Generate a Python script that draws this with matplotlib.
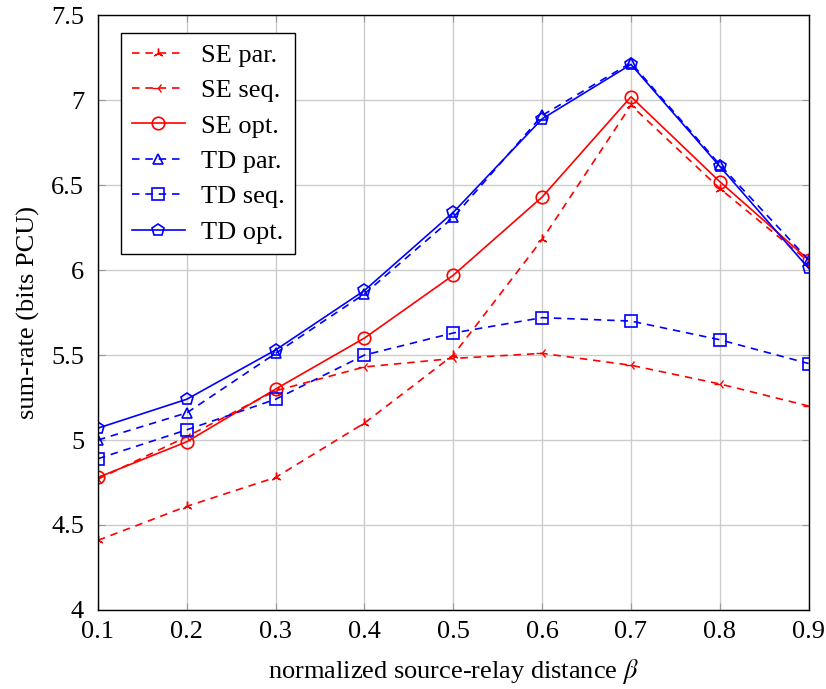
import numpy as np
import matplotlib.pyplot as plt

plt.rcParams['font.family'] = ['Liberation Serif', 'DejaVu Serif']
plt.rcParams['mathtext.fontset'] = 'stix'

beta = [0.1, 0.2, 0.3, 0.4, 0.5, 0.6, 0.7, 0.8, 0.9]

se_par = [4.41, 4.61, 4.78, 5.10, 5.50, 6.18, 6.97, 6.48, 6.05]
se_seq = [4.77, 5.02, 5.29, 5.43, 5.48, 5.51, 5.44, 5.33, 5.20]
se_opt = [4.78, 4.99, 5.30, 5.60, 5.97, 6.43, 7.02, 6.52, 6.06]
td_par = [5.00, 5.16, 5.51, 5.86, 6.31, 6.91, 7.22, 6.62, 6.06]
td_seq = [4.89, 5.06, 5.24, 5.50, 5.63, 5.72, 5.70, 5.59, 5.45]
td_opt = [5.07, 5.24, 5.53, 5.88, 6.34, 6.89, 7.21, 6.61, 6.01]

fig = plt.figure(figsize=(8.26, 6.89), dpi=100)
ax = fig.add_axes([0.1186, 0.1147, 0.8604, 0.8633])

dash = (0, (4.5, 3.5))
ax.plot(beta, se_par, color='red', ls=dash, lw=1.2, marker=(3, 2, 0),
        ms=7, mew=1.0, label='SE par.')
ax.plot(beta, se_seq, color='red', ls=dash, lw=1.2, marker='3',
        ms=8, mew=1.0, label='SE seq.')
ax.plot(beta, se_opt, color='red', ls='-', lw=1.2, marker='o',
        ms=9, mfc='none', mew=1.2, label='SE opt.')
ax.plot(beta, td_par, color='blue', ls=dash, lw=1.2, marker='^',
        ms=7, mfc='none', mew=1.2, label='TD par.')
ax.plot(beta, td_seq, color='blue', ls=dash, lw=1.2, marker='s',
        ms=9, mfc='none', mew=1.2, label='TD seq.')
ax.plot(beta, td_opt, color='blue', ls='-', lw=1.2, marker='p',
        ms=9, mfc='none', mew=1.2, label='TD opt.')

ax.set_xlim(0.1, 0.9)
ax.set_ylim(4, 7.5)
ax.set_xticks(beta)
ax.set_xticklabels([str(b) for b in beta])
ax.set_yticks([4, 4.5, 5, 5.5, 6, 6.5, 7, 7.5])
ax.set_yticklabels(['4', '4.5', '5', '5.5', '6', '6.5', '7', '7.5'])
ax.grid(True, color='#cccccc', lw=1.0)
ax.set_axisbelow(True)
ax.tick_params(axis='both', direction='in', top=True, right=True,
               color='#999999', length=5, labelsize=19)
ax.tick_params(axis='x', pad=8)
ax.tick_params(axis='y', pad=10)
for s in ax.spines.values():
    s.set_linewidth(1.0)

ax.set_xlabel(r'normalized source-relay distance $\beta$', fontsize=19,
              labelpad=10)
ax.set_ylabel('sum-rate (bits PCU)', fontsize=19, labelpad=8)

leg = ax.legend(loc='upper left', bbox_to_anchor=(0.033, 0.97), fontsize=19,
                fancybox=False, framealpha=1, edgecolor='black',
                handlelength=2.0, labelspacing=0.45, borderpad=0.4,
                handletextpad=0.6, borderaxespad=0)
leg.get_frame().set_linewidth(1.0)

fig.savefig('out.png', dpi=100)
